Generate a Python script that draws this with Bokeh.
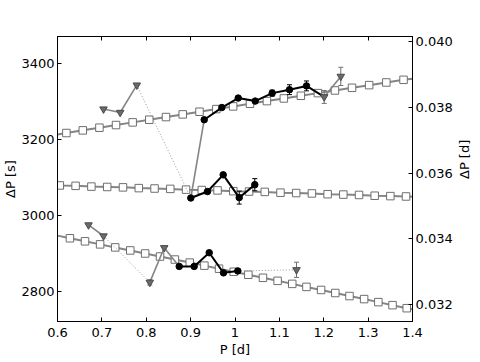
from bokeh.plotting import figure
from bokeh.models import Range1d, LinearAxis, FixedTicker, PrintfTickFormatter
from bokeh.embed import file_html
from bokeh.resources import INLINE

# ---- model sequences (squares) : period [d], period spacing [s]
top_P = [0.620, 0.657, 0.6945, 0.7319, 0.7694, 0.8069, 0.8445, 0.8822, 0.920, 0.9579,
         0.9958, 1.0338, 1.0719, 1.1101, 1.1484, 1.1868, 1.2252, 1.2637, 1.3023, 1.341, 1.3798]
top_dP = [3216, 3223, 3230, 3237, 3244, 3251, 3258, 3265, 3272, 3279,
          3286, 3293, 3300, 3307, 3314, 3321, 3328, 3335, 3342, 3349, 3356]

mid_P = [0.6052, 0.6408, 0.6764, 0.712, 0.7476, 0.7832, 0.8187, 0.8542, 0.8897, 0.9252,
         0.9607, 0.9962, 1.0317, 1.0671, 1.1025, 1.1379, 1.1733, 1.2087, 1.2441, 1.2795,
         1.3148, 1.3501, 1.3854]
mid_dP = [3078, 3077, 3075, 3074, 3073, 3071, 3070, 3069, 3067, 3066,
          3065, 3063, 3062, 3061, 3059, 3058, 3057, 3055, 3054, 3053,
          3051, 3050, 3049]

bot_P = [0.628, 0.662, 0.696, 0.730, 0.764, 0.7975, 0.831, 0.8645, 0.898, 0.931,
         0.964, 0.997, 1.030, 1.063, 1.096, 1.129, 1.161, 1.194, 1.226, 1.258,
         1.291, 1.323, 1.355, 1.387]
bot_dP = [2939, 2931, 2923, 2915, 2907, 2899, 2891, 2883, 2875, 2867,
          2859, 2851, 2843, 2835, 2827, 2819, 2811, 2803, 2795, 2787,
          2779, 2771, 2763, 2755]

# model curves continue to the frame edges
edge_P = [0.60, 1.40]
top_edge_dP = [3212, 3359]
mid_edge_dP = [3078.5, 3048]
bot_edge_dP = [2946, 2752]

# ---- observed spacings
# upper sequence
up_tri1_P = [0.7037, 0.7413, 0.7787]
up_tri1_dP = [3279, 3270, 3342]
up_blk_P = [0.9306, 0.9703, 1.0072, 1.0455, 1.0838, 1.1228, 1.1611]
up_blk_dP = [3251, 3283, 3308, 3300, 3321, 3330, 3340]
up_blk_err = [0, 0, 0, 0, 8, 13, 13]
up_tri2_P = [1.201, 1.2384]
up_tri2_dP = [3311, 3365]
up_tri2_err = [17, 24]

# middle sequence
md_blk_P = [0.9004, 0.938, 0.9734, 1.0095, 1.0446]
md_blk_dP = [3045, 3062, 3106, 3046, 3080]
md_blk_err = [0, 0, 0, 17, 16]

# lower sequence
lo_tri1_P = [0.6699, 0.7037]
lo_tri1_dP = [2974, 2945]
lo_tri2_P = [0.808, 0.8405]
lo_tri2_dP = [2823, 2914]
lo_tri2_err = [7, 0]
lo_blk_P = [0.8743, 0.908, 0.9419, 0.9741, 1.0063]
lo_blk_dP = [2865, 2865, 2901, 2848, 2853]
lo_tri3_P = [1.1386]
lo_tri3_dP = [2856]
lo_tri3_err = [20]

x_ticks = [0.6, 0.7, 0.8, 0.9, 1.0, 1.1, 1.2, 1.3, 1.4]
y_ticks = [2800, 3000, 3200, 3400]
yd_ticks = [0.032, 0.034, 0.036, 0.038, 0.040]
Y0, Y1 = 2720, 3470
SEC_PER_DAY = 86400.0

FONT = "DejaVu Sans"
FS = "13px"
GRAY = "#858585"
SQ_EDGE = "#6e6e6e"
TRI_FILL = "#6a6a6a"
TRI_EDGE = "#4a4a4a"

p = figure(frame_width=355, frame_height=285, x_range=Range1d(0.6, 1.4), y_range=Range1d(Y0, Y1),
           output_backend="svg", toolbar_location=None,
           min_border_left=54, min_border_right=57, min_border_top=36, min_border_bottom=33)
p.extra_y_ranges = {"d": Range1d(Y0 / SEC_PER_DAY, Y1 / SEC_PER_DAY)}

p.grid.visible = False
p.outline_line_color = "black"
p.outline_line_width = 1
p.background_fill_color = "white"
p.border_fill_color = "white"


def style_axis(ax):
    ax.major_tick_in = 4
    ax.major_tick_out = 0
    ax.minor_tick_line_color = None
    ax.axis_line_color = "black"
    ax.major_tick_line_color = "black"
    ax.major_label_text_font = FONT
    ax.major_label_text_font_size = FS
    ax.major_label_text_color = "black"
    ax.axis_label_text_font = FONT
    ax.axis_label_text_font_size = FS
    ax.axis_label_text_font_style = "normal"
    ax.axis_label_text_color = "black"


xa = p.xaxis[0]
style_axis(xa)
xa.ticker = FixedTicker(ticks=x_ticks)
xa.axis_label = "P [d]"
xa.major_label_standoff = 6
xa.axis_label_standoff = 2

ya = p.yaxis[0]
style_axis(ya)
ya.ticker = FixedTicker(ticks=y_ticks)
ya.axis_label = "ΔP [s]"
ya.major_label_standoff = 3
ya.axis_label_standoff = 0

ra = LinearAxis(y_range_name="d", ticker=FixedTicker(ticks=yd_ticks),
                formatter=PrintfTickFormatter(format="%.3f"), axis_label="ΔP [d]")
style_axis(ra)
ra.major_label_standoff = 3
ra.axis_label_standoff = 9
try:
    ra.axis_label_orientation = 1.5707963
except Exception:
    pass
p.add_layout(ra, "right")

ta = LinearAxis(ticker=FixedTicker(ticks=x_ticks))
style_axis(ta)
ta.major_label_text_font_size = "1px"
ta.major_label_text_color = None
ta.major_label_standoff = 0
p.add_layout(ta, "above")

# ---- model curves
for P, dP, e_dP in ((top_P, top_dP, top_edge_dP), (mid_P, mid_dP, mid_edge_dP), (bot_P, bot_dP, bot_edge_dP)):
    p.line([edge_P[0]] + P + [edge_P[1]], [e_dP[0]] + dP + [e_dP[1]], line_color=GRAY, line_width=2)
    p.scatter(P, dP, marker="square", size=7.5, fill_color="white", line_color=SQ_EDGE, line_width=1)

# ---- connecting lines
# upper
p.line(up_tri1_P, up_tri1_dP, line_color=GRAY, line_width=1.6)
p.line([up_tri1_P[-1], md_blk_P[0]], [up_tri1_dP[-1], md_blk_dP[0]], line_color="#9a9a9a",
       line_width=1, line_dash="1 2")
p.line([md_blk_P[0], up_blk_P[0]], [md_blk_dP[0], up_blk_dP[0]], line_color=GRAY, line_width=1.6)
p.line(up_blk_P + [up_tri2_P[0]], up_blk_dP + [up_tri2_dP[0]], line_color="black", line_width=2)
p.line(up_tri2_P, up_tri2_dP, line_color=GRAY, line_width=1.6)
# middle
p.line(md_blk_P, md_blk_dP, line_color="black", line_width=2)
# lower
p.line(lo_tri1_P, lo_tri1_dP, line_color=GRAY, line_width=1.6)
p.line([lo_tri1_P[-1], lo_tri2_P[0]], [lo_tri1_dP[-1], lo_tri2_dP[0]], line_color="#9a9a9a",
       line_width=1, line_dash="1 2")
p.line(lo_tri2_P + [lo_blk_P[0]], lo_tri2_dP + [lo_blk_dP[0]], line_color=GRAY, line_width=1.6)
p.line(lo_blk_P, lo_blk_dP, line_color="black", line_width=2)
p.line([lo_blk_P[-1], lo_tri3_P[0]], [lo_blk_dP[-1], lo_tri3_dP[0]], line_color="#9a9a9a",
       line_width=1, line_dash="1 2")


def errbars(P, dP, err, color):
    xs = [x for x, e in zip(P, err) if e > 0]
    lo = [y - e for y, e in zip(dP, err) if e > 0]
    hi = [y + e for y, e in zip(dP, err) if e > 0]
    if not xs:
        return
    p.segment(xs, lo, xs, hi, line_color=color, line_width=1)
    p.scatter(xs + xs, lo + hi, marker="dash", size=5, line_color=color, line_width=1)


errbars(up_blk_P, up_blk_dP, up_blk_err, "black")
errbars(md_blk_P, md_blk_dP, md_blk_err, "black")
errbars(up_tri2_P, up_tri2_dP, up_tri2_err, "#707070")
errbars(lo_tri2_P, lo_tri2_dP, lo_tri2_err, "#707070")
errbars(lo_tri3_P, lo_tri3_dP, lo_tri3_err, "#707070")

# ---- markers
for P, dP in ((up_tri1_P, up_tri1_dP), (up_tri2_P, up_tri2_dP), (lo_tri1_P, lo_tri1_dP),
              (lo_tri2_P, lo_tri2_dP), (lo_tri3_P, lo_tri3_dP)):
    p.scatter(P, dP, marker="inverted_triangle", size=7.5, fill_color=TRI_FILL, line_color=TRI_EDGE,
              line_width=1)
for P, dP in ((up_blk_P, up_blk_dP), (md_blk_P, md_blk_dP), (lo_blk_P, lo_blk_dP)):
    p.scatter(P, dP, marker="circle", size=6.5, fill_color="black", line_color="black")

open("out.html", "w").write(file_html(p, INLINE))
